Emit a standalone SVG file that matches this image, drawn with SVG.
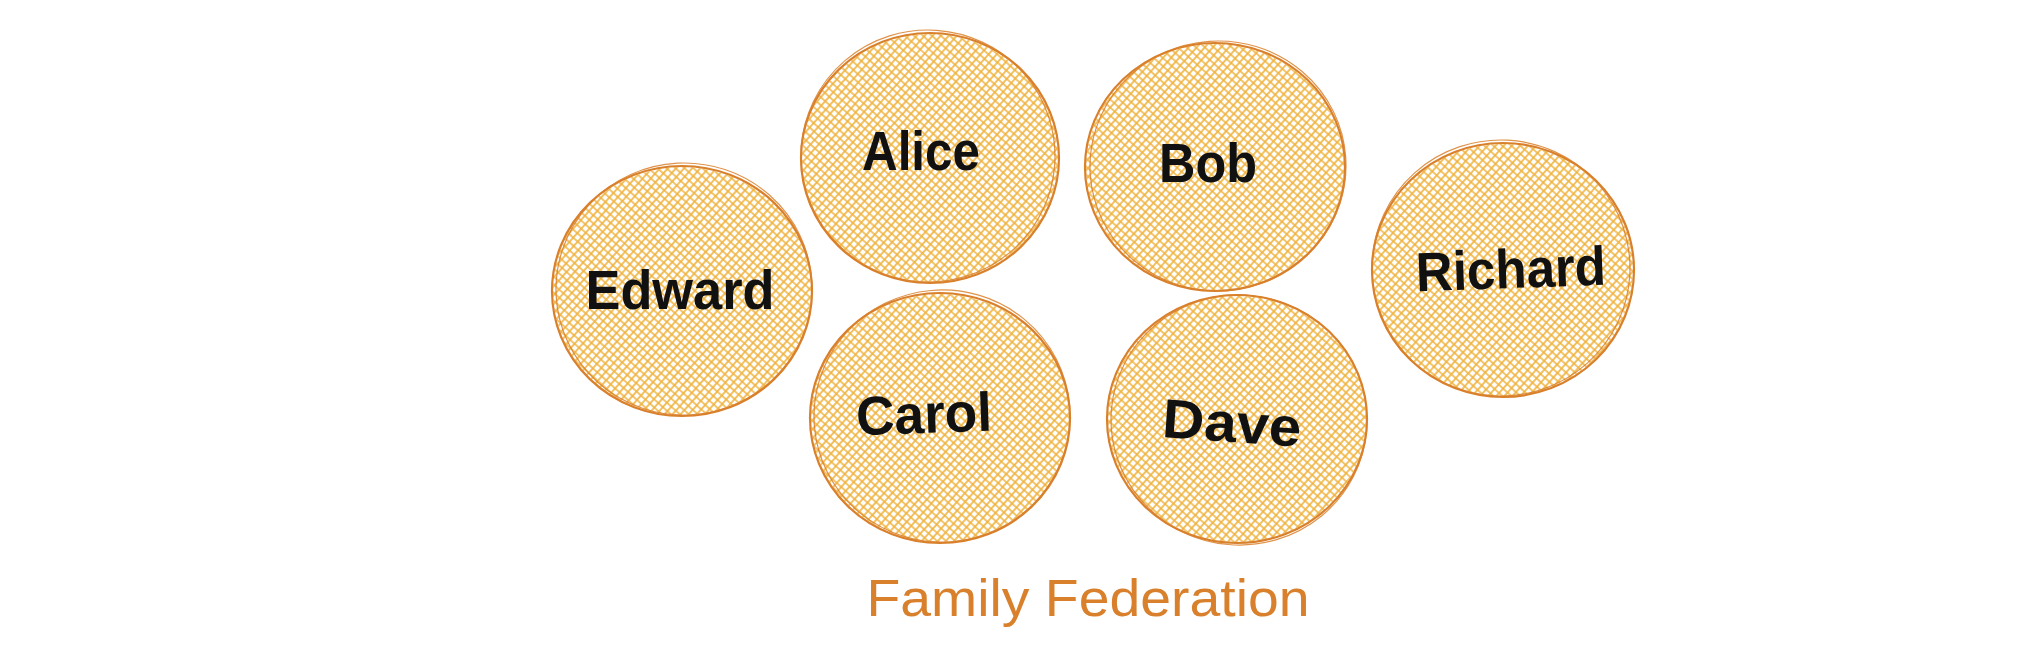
<svg xmlns="http://www.w3.org/2000/svg" width="2042" height="652" viewBox="0 0 2042 652">
  <defs>
    <pattern id="hatch" width="6" height="6" patternUnits="userSpaceOnUse" patternTransform="rotate(42)">
      <path d="M0 3 H6 M3 0 V6" stroke="#efb23c" stroke-width="1.6" fill="none"/>
    </pattern>
    <style>
      .fill { fill: url(#hatch); stroke: none; }
      .edge { fill: none; stroke: #d9802c; stroke-width: 2.2; }
      .edge2 { fill: none; stroke: #d9802c; stroke-width: 1.2; opacity: 0.85; }
      .label { font-family: "Liberation Sans", Arial, sans-serif; font-size: 55px; font-weight: bold; fill: #111111; text-anchor: middle; }
      .title { font-family: "Liberation Sans", Arial, sans-serif; font-size: 52px; fill: #d9802c; text-anchor: middle; }
    </style>
  </defs>
  <rect width="2042" height="652" fill="#ffffff"/>

  <g id="connectors"></g>

  <g id="node-edward">
    <ellipse class="fill" cx="682" cy="291" rx="129" ry="124"/>
    <ellipse class="edge" cx="682" cy="291" rx="130" ry="125"/>
    <ellipse class="edge2" cx="684" cy="289" rx="128" ry="126" transform="rotate(-3 684 289)"/>
    <text class="label" x="680" y="309" textLength="189" lengthAdjust="spacingAndGlyphs">Edward</text>
  </g>

  <g id="node-alice">
    <ellipse class="fill" cx="930" cy="158" rx="128" ry="124"/>
    <ellipse class="edge" cx="930" cy="158" rx="129" ry="125"/>
    <ellipse class="edge2" cx="928" cy="156" rx="127" ry="126" transform="rotate(4 928 156)"/>
    <text class="label" x="921" y="170" textLength="118" lengthAdjust="spacingAndGlyphs">Alice</text>
  </g>

  <g id="node-bob">
    <ellipse class="fill" cx="1215" cy="167" rx="129" ry="123"/>
    <ellipse class="edge" cx="1215" cy="167" rx="130" ry="124"/>
    <ellipse class="edge2" cx="1218" cy="166" rx="128" ry="125" transform="rotate(-4 1218 166)"/>
    <text class="label" x="1208" y="182" textLength="98" lengthAdjust="spacingAndGlyphs">Bob</text>
  </g>

  <g id="node-richard">
    <ellipse class="fill" cx="1503" cy="270" rx="130" ry="126"/>
    <ellipse class="edge" cx="1503" cy="270" rx="131" ry="127"/>
    <ellipse class="edge2" cx="1501" cy="268" rx="129" ry="128" transform="rotate(3 1501 268)"/>
    <text class="label" x="1511" y="288" textLength="190" lengthAdjust="spacingAndGlyphs" transform="rotate(-2 1511 272)">Richard</text>
  </g>

  <g id="node-carol">
    <ellipse class="fill" cx="940" cy="418" rx="129" ry="124"/>
    <ellipse class="edge" cx="940" cy="418" rx="130" ry="125"/>
    <ellipse class="edge2" cx="942" cy="416" rx="128" ry="126" transform="rotate(-5 942 416)"/>
    <text class="label" x="924" y="433" textLength="136" lengthAdjust="spacingAndGlyphs" transform="rotate(-2 924 414)">Carol</text>
  </g>

  <g id="node-dave">
    <ellipse class="fill" cx="1237" cy="419" rx="129" ry="123"/>
    <ellipse class="edge" cx="1237" cy="419" rx="130" ry="124"/>
    <ellipse class="edge2" cx="1239" cy="420" rx="128" ry="125" transform="rotate(5 1239 420)"/>
    <text class="label" x="1232" y="442" textLength="139" lengthAdjust="spacingAndGlyphs" transform="rotate(4 1232 423)">Dave</text>
  </g>

  <g id="title">
    <text class="title" x="1088" y="616" textLength="443" lengthAdjust="spacingAndGlyphs">Family Federation</text>
  </g>
</svg>
